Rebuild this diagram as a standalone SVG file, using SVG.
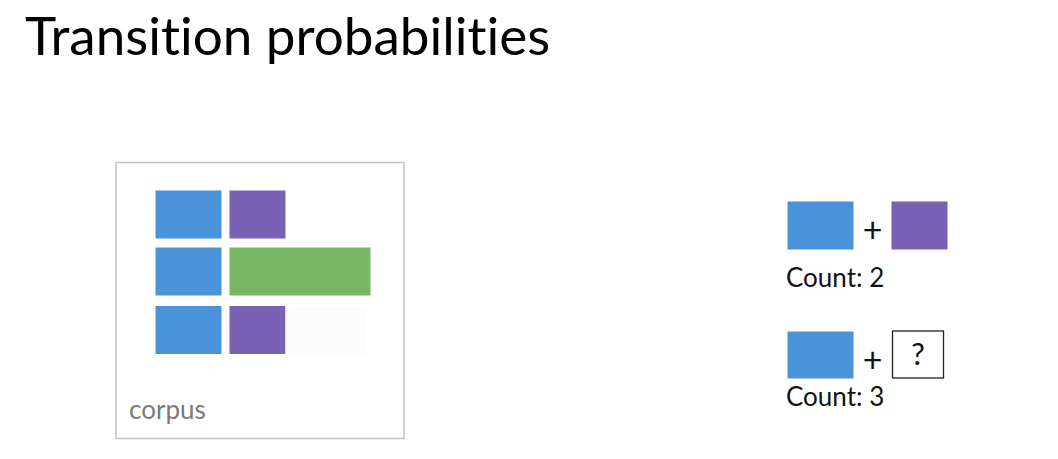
<svg xmlns="http://www.w3.org/2000/svg" width="1058" height="459" viewBox="0 0 1058 459">
<style>
text{font-family:Lato,"Liberation Sans",sans-serif;font-variant-ligatures:none}
.blue{fill:#4a93d9}
.purple{fill:#7b61b6}
.green{fill:#77b663}
.lbl{font-size:26px;fill:#111}
</style>
<rect width="1058" height="459" fill="#fff"/>
<text x="25" y="55" style="font-size:53px" fill="#000">Transition probabilities</text>
<g id="corpus">
<rect x="116" y="162.5" width="288" height="276" fill="#fff" stroke="#c4c4c4" stroke-width="1.5"/>
<rect class="blue" x="155.5" y="190.5" width="66" height="48"/>
<rect class="purple" x="229.5" y="190.5" width="56" height="48"/>
<rect class="blue" x="155.5" y="247.5" width="66" height="48"/>
<rect class="green" x="229.5" y="247.5" width="141" height="48"/>
<rect class="blue" x="155.5" y="306" width="66" height="48"/>
<rect class="purple" x="229.5" y="306" width="56" height="48"/>
<rect x="285.5" y="306" width="81" height="51" fill="#fcfcfc"/>
<text x="129" y="419" style="font-size:26px" fill="#7a7a7a">corpus</text>
</g>
<g id="pair1">
<rect class="blue" x="787.5" y="201.5" width="66" height="48"/>
<text class="lbl" x="872.5" y="242" text-anchor="middle" style="font-size:34px">+</text>
<rect class="purple" x="891.5" y="201.5" width="56" height="48"/>
<text class="lbl" x="786" y="287">Count: 2</text>
</g>
<g id="pair2">
<rect class="blue" x="787.5" y="331.5" width="66" height="47"/>
<text class="lbl" x="872.5" y="372" text-anchor="middle" style="font-size:34px">+</text>
<rect x="892.5" y="331" width="51" height="47" fill="#fff" stroke="#222" stroke-width="1.3"/>
<text class="lbl" x="918" y="364.5" text-anchor="middle" style="font-size:31px">?</text>
<text class="lbl" x="786" y="406">Count: 3</text>
</g>
</svg>
